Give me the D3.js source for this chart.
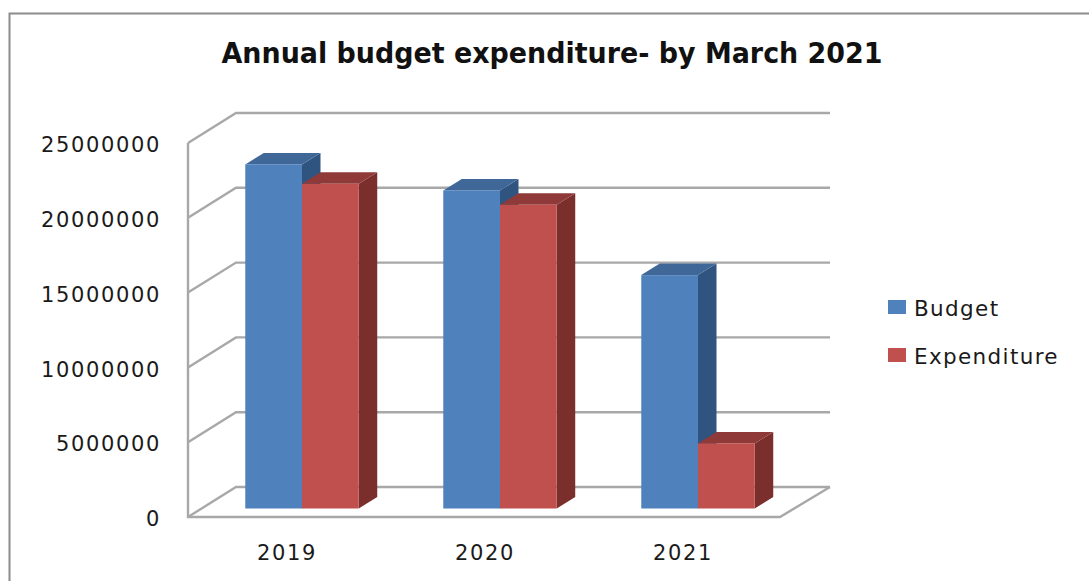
<!DOCTYPE html>
<html>
<head>
<meta charset="utf-8">
<script src="https://cdn.jsdelivr.net/npm/d3@7/dist/d3.min.js"></script>
<style>
  html, body { margin: 0; padding: 0; background: #fff; }
  svg { display: block; }
  text { font-family: "DejaVu Sans", sans-serif; fill: #1a1a1a; }
</style>
</head>
<body>
<svg id="chart" width="1089" height="581"></svg>
<script>
const title = "Annual budget expenditure- by March 2021";
const years = ["2019", "2020", "2021"];
const seriesNames = ["Budget", "Expenditure"];
const budget = [23000000, 21260000, 15600000];
const expenditure = [21700000, 20300000, 4350000];
const yTicks = [0, 5000000, 10000000, 15000000, 20000000, 25000000];

const palette = {
  Budget: { front: "#4f81bd", top: "#3f6797", side: "#2f5480" },
  Expenditure: { front: "#c0504d", top: "#8f3a38", side: "#7a2f2d" }
};

const svg = d3.select("#chart");

// Oblique projection: the floor recedes up and to the right
const floorDepth = { dx: 48, dy: -30 };
const barInset = { dx: 13, dy: -8.5 };
const barDepth = { dx: 18.5, dy: -11.5 };

const y = d3.scaleLinear().domain([0, 25000000]).range([517, 143]);
const xLabel = d3.scaleBand().domain(years).range([188, 782]);
const xBar = d3.scaleBand().domain(years).range([203, 797]).paddingInner(0.427).paddingOuter(0.2135);
const xSeries = d3.scaleBand().domain(seriesNames).range([0, xBar.bandwidth()]);

// Outer frame
svg.append("path")
  .attr("d", "M9.5,581V13.5H1089")
  .attr("fill", "none").attr("stroke", "#8c8c8c").attr("stroke-width", 2);

// Walls and floor
const grid = svg.append("g").attr("fill", "none").attr("stroke", "#a8a8a8").attr("stroke-width", 2.4);
const wallRight = 830;
yTicks.forEach(t => {
  const yFront = y(t);
  const yBack = yFront + floorDepth.dy;
  const xFront = 188;
  const xBack = xFront + floorDepth.dx;
  grid.append("path").attr("d", `M${xFront},${yFront}L${xBack},${yBack}H${wallRight}`);
});
grid.append("path").attr("d", `M188,${y(25000000)}V${y(0)}H${wallRight - floorDepth.dx - 2}L${wallRight},${y(0) + floorDepth.dy}`);

// Value axis
const yAxis = d3.axisLeft(y).tickValues(yTicks).tickSize(0).tickPadding(0).tickFormat(d3.format("d"));
const axisG = svg.append("g").attr("transform", "translate(161,2)").call(yAxis);
axisG.select(".domain").remove();
axisG.selectAll("text")
  .style("font-size", "21px").style("letter-spacing", "1.65px").attr("fill", "#1a1a1a");

// Year labels
const xAxis = d3.axisBottom(xLabel).tickSize(0).tickPadding(0);
const xG = svg.append("g").attr("transform", "translate(0,545)").call(xAxis);
xG.select(".domain").remove();
xG.selectAll("text")
  .style("font-size", "21px").style("letter-spacing", "1.6px").attr("fill", "#1a1a1a");

// Prisms: side and top faces first, then the front
const bars = years.flatMap((yr, i) => [
  { yr, name: seriesNames[0], value: budget[i] },
  { yr, name: seriesNames[1], value: expenditure[i] }
]);
const baseY = y(0) + barInset.dy;
const groups = svg.append("g").selectAll("g").data(bars).join("g");
groups.each(function (d) {
  const g = d3.select(this);
  const x0 = xBar(d.yr) + xSeries(d.name);
  const x1 = x0 + xSeries.bandwidth();
  const top = y(d.value) + barInset.dy;
  const { dx, dy } = barDepth;
  const c = palette[d.name];
  g.append("path").attr("fill", c.side)
    .attr("d", `M${x1},${top}L${x1 + dx},${top + dy}V${baseY + dy}L${x1},${baseY}Z`);
  g.append("path").attr("fill", c.top)
    .attr("d", `M${x0},${top}L${x0 + dx},${top + dy}H${x1 + dx}L${x1},${top}Z`);
  g.append("rect").attr("fill", c.front)
    .attr("x", x0).attr("y", top).attr("width", x1 - x0).attr("height", baseY - top);
});

// Title
svg.append("text")
  .attr("x", 552).attr("y", 63).attr("text-anchor", "middle")
  .style("font-size", "27.5px").style("font-weight", "bold").style("fill", "#111")
  .attr("textLength", 661).attr("lengthAdjust", "spacingAndGlyphs")
  .text(title);

// Legend
const legend = svg.append("g").selectAll("g").data(seriesNames).join("g")
  .attr("transform", (d, i) => `translate(888,${300 + i * 48})`);
legend.append("rect").attr("width", 18).attr("height", 14).attr("fill", d => palette[d].front);
legend.append("text").attr("x", 26).attr("y", 15.5)
  .style("font-size", "21.5px").style("letter-spacing", "1.35px")
  .text(d => d);
</script>
</body>
</html>
